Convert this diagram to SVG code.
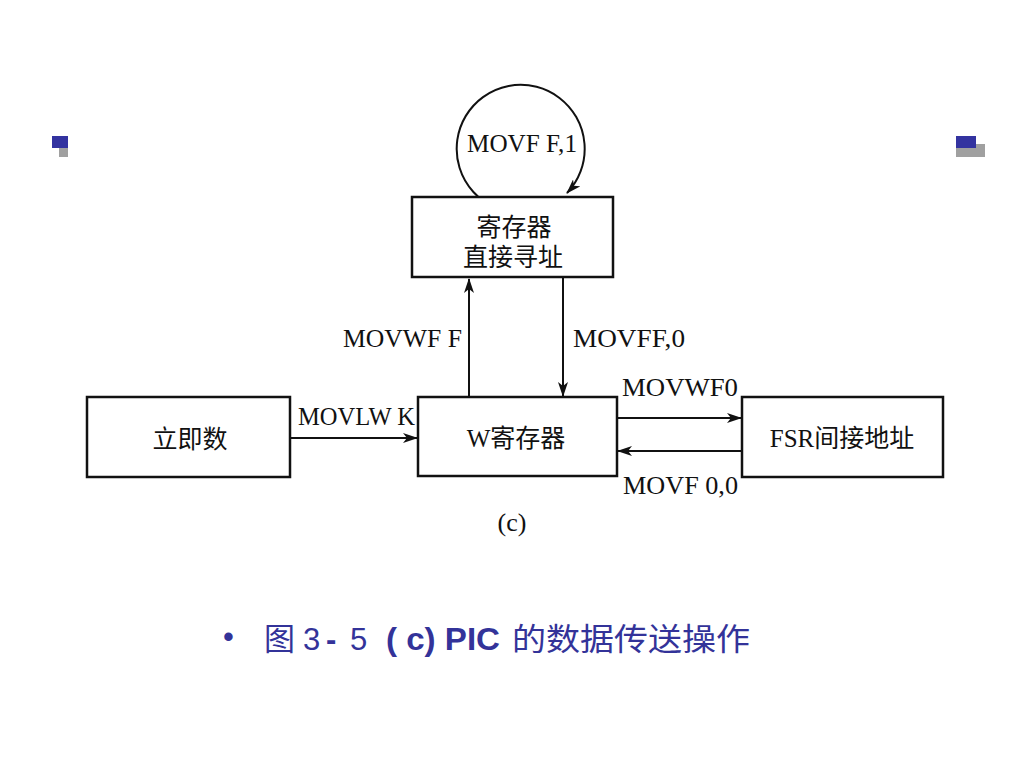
<svg xmlns="http://www.w3.org/2000/svg" width="1024" height="768" viewBox="0 0 1024 768">
<defs>
<style>
.box{fill:#fff;stroke:#111;stroke-width:2.5}
.ln{stroke:#111;stroke-width:2;fill:none}
.lbl{font-family:"Liberation Serif","Noto Sans CJK SC",serif;font-size:26px;fill:#111}
.cn{font-family:"Liberation Serif","Noto Sans CJK SC",serif;font-size:25px;fill:#111;text-anchor:middle}
.cap{font-family:"Liberation Sans","Noto Sans CJK SC",sans-serif;font-size:31px;fill:#333399}
</style>
<marker id="ah" markerWidth="15" markerHeight="10" refX="14" refY="5" orient="auto" markerUnits="userSpaceOnUse">
<path d="M0,0 L15,5 L0,10 L4,5 Z" fill="#111"/>
</marker>
</defs>
<rect width="1024" height="768" fill="#fff"/>
<g id="decor">
<rect x="59" y="146" width="9" height="11" fill="#a0a0a0"/>
<rect x="52" y="136" width="16" height="12" fill="#3333a0"/>
<rect x="956" y="144" width="29" height="13" fill="#a0a0a0"/>
<rect x="956" y="136" width="20" height="12" fill="#3333a0"/>
</g>
<g id="connectors">
<path class="ln" stroke-width="2.5" d="M494,207 A64,64 0 1 1 567,193" marker-end="url(#ah)"/>
<line class="ln" x1="469" y1="397" x2="469" y2="279" stroke-width="3.5" marker-end="url(#ah)"/>
<line class="ln" x1="563" y1="277" x2="563" y2="396" marker-end="url(#ah)"/>
<line class="ln" x1="290" y1="438" x2="417" y2="438" marker-end="url(#ah)"/>
<line class="ln" x1="617" y1="418" x2="741" y2="418" marker-end="url(#ah)"/>
<line class="ln" x1="742" y1="451" x2="618" y2="451" marker-end="url(#ah)"/>
</g>
<g id="n-direct">
<rect class="box" x="412" y="197" width="201" height="80"/>
<text class="cn" x="514" y="236">寄存器</text>
<text class="cn" x="513" y="266">直接寻址</text>
</g>
<g id="n-imm">
<rect class="box" x="87" y="397" width="203" height="80"/>
<text class="cn" x="190" y="448">立即数</text>
</g>
<g id="n-w">
<rect class="box" x="418" y="397" width="199" height="79"/>
<text class="cn" x="516" y="447">W寄存器</text>
</g>
<g id="n-fsr">
<rect class="box" x="742" y="397" width="201" height="80"/>
<text class="cn" x="842" y="447">FSR间接地址</text>
</g>
<g id="labels">
<text class="lbl" x="467" y="152" textLength="110" lengthAdjust="spacingAndGlyphs">MOVF F,1</text>
<text class="lbl" x="343" y="347" textLength="119" lengthAdjust="spacingAndGlyphs">MOVWF F</text>
<text class="lbl" x="573" y="347" textLength="112" lengthAdjust="spacingAndGlyphs">MOVFF,0</text>
<text class="lbl" x="298" y="425" textLength="117" lengthAdjust="spacingAndGlyphs">MOVLW K</text>
<text class="lbl" x="622" y="396" textLength="116" lengthAdjust="spacingAndGlyphs">MOVWF0</text>
<text class="lbl" x="623" y="494" textLength="115" lengthAdjust="spacingAndGlyphs">MOVF 0,0</text>
<text class="lbl" x="512" y="531" text-anchor="middle" font-size="20">(c)</text>
</g>
<g id="caption">
<text class="cap" x="223" y="647" font-size="24">•</text>
<text class="cap" x="264" y="650">图</text>
<text class="cap" x="303" y="650">3</text>
<text class="cap" x="326" y="650" font-weight="bold">-</text>
<text class="cap" x="350" y="650">5</text>
<text class="cap" x="386" y="650" font-weight="bold" textLength="114" lengthAdjust="spacingAndGlyphs">( c) PIC</text>
<text class="cap" x="512" y="650" textLength="238" lengthAdjust="spacingAndGlyphs">的数据传送操作</text>
</g>
</svg>
